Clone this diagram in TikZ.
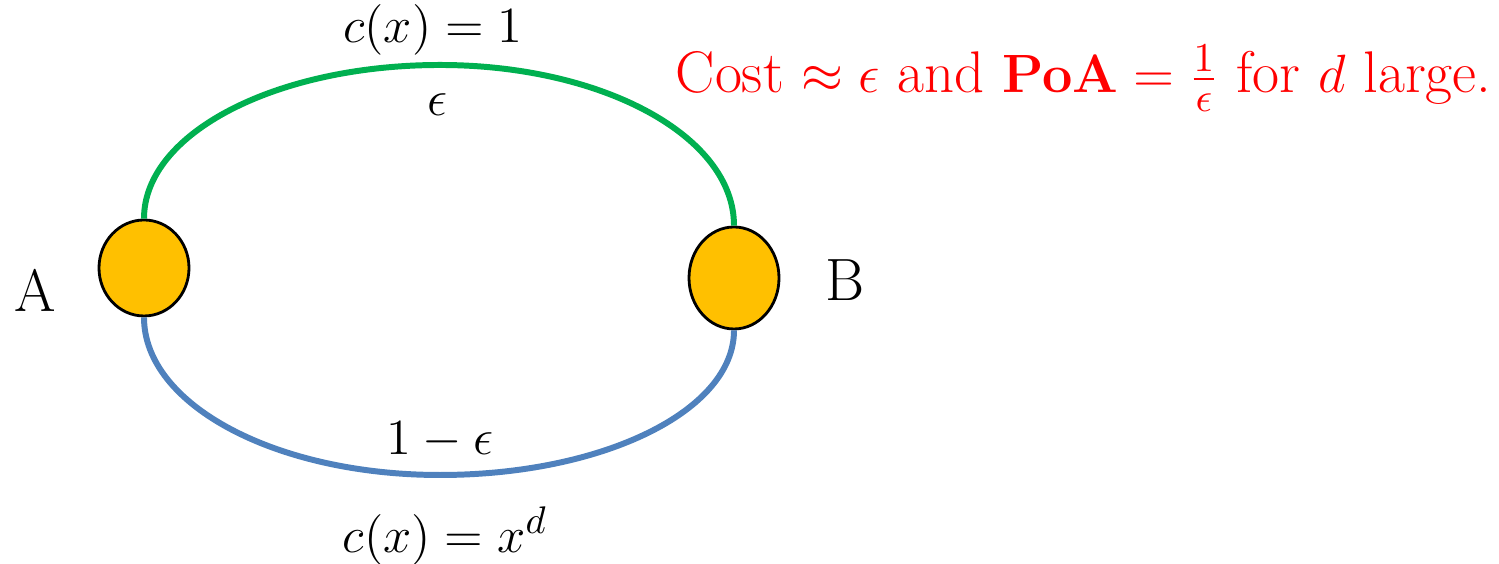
\documentclass[tikz,border=0pt]{standalone}
\usepackage{xcolor}
\usepackage{tikz}
\usetikzlibrary{shapes.geometric, positioning}

\definecolor{linkgreen}{HTML}{00B050}
\definecolor{linkblue}{HTML}{4F81BD}
\definecolor{vertexfill}{HTML}{FFC000}

\begin{document}
\begin{tikzpicture}[
    vertex/.style={draw, ellipse, fill=vertexfill, line width=0.8pt, inner sep=0pt, minimum width=0.9cm},
    lbl/.style={font=\fontsize{15.6}{18}\selectfont, inner sep=0pt},
    vname/.style={font=\fontsize{17}{20}\selectfont, inner sep=0pt},
    toplink/.style={draw=linkgreen, line width=1.7pt},
    botlink/.style={draw=linkblue, line width=1.7pt},
]
\useasboundingbox (0,0) rectangle (14.99,5.64);

% Vertices
\node[vertex, minimum height=0.96cm] (A) at (1.44, 2.96) {};
\node[vertex, minimum height=1.02cm] (B) at (7.34, 2.86) {};
\node[vname] (la) at (0.35, 2.74) {A};
\node[vname] (lb) at (8.45, 2.84) {B};

% Turning points of the two links
\coordinate (gtop) at (4.40, 4.99);
\coordinate (bbot) at (4.40, 0.89);

% Links
\draw[toplink] (A.north) .. controls +(0,0.856) and +(-1.635,0) .. (gtop)
    .. controls +(1.624,0) and +(0,0.895) .. (B.north);
\draw[botlink] (A.south) .. controls +(0,-0.878) and +(-1.635,0) .. (bbot)
    .. controls +(1.624,0) and +(0,-0.806) .. (B.south);

% Link labels
\node[lbl] (cone) at (4.33, 5.34) {$c(x)=1$};
\node[lbl] (feps) at (4.37, 4.59) {$\epsilon$};
\node[lbl] (fone) at (4.40, 1.24) {$1-\epsilon$};
\node[lbl] (cxd) at (4.45, 0.28) {$c(x)=x^d$};

% Remark
\node[text=red, anchor=west, inner sep=0pt, scale=1.065, transform shape,
    font=\fontsize{15.7}{19}\selectfont] (cost) at (6.75, 4.86)
    {Cost $\approx\epsilon$ and $\mathbf{PoA}=\frac{1}{\epsilon}$ for $d$ large.};

\end{tikzpicture}
\end{document}
